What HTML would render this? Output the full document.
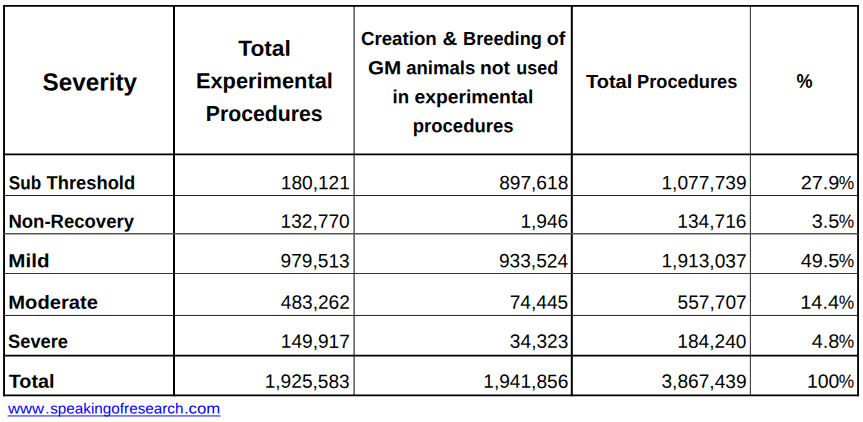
<!DOCTYPE html>
<html lang="en">
<head>
<meta charset="utf-8">
<title>Severity of procedures</title>
<style>
html,body{margin:0;padding:0;background:#fff;}
body{width:863px;height:422px;overflow:hidden;position:relative;}
svg{position:absolute;left:0;top:0;display:block;}
text{font-family:"Liberation Sans",sans-serif;fill:#000;}
.b{font-weight:bold;}
a text{fill:#0000ff;}
</style>
</head>
<body>
<svg width="863" height="422" viewBox="0 0 863 422">
<rect x="0" y="0" width="863" height="422" fill="#ffffff"/>
<g fill="none">
<line x1="4.05" y1="4.90" x2="4.05" y2="396.20" stroke="#000" stroke-width="1.90"/>
<line x1="174.00" y1="4.90" x2="174.00" y2="396.20" stroke="#000" stroke-width="2.00"/>
<line x1="571.80" y1="4.90" x2="571.80" y2="396.20" stroke="#000" stroke-width="2.00"/>
<line x1="858.05" y1="4.90" x2="858.05" y2="396.20" stroke="#000" stroke-width="1.85"/>
<line x1="354.10" y1="5.80" x2="354.10" y2="395.40" stroke="#1a1a1a" stroke-width="1.10"/>
<line x1="750.40" y1="5.80" x2="750.40" y2="395.40" stroke="#3a3a3a" stroke-width="1.10"/>
<line x1="3.00" y1="5.80" x2="858.97" y2="5.80" stroke="#000" stroke-width="1.80"/>
<line x1="3.00" y1="154.40" x2="858.97" y2="154.40" stroke="#000" stroke-width="1.80"/>
<line x1="3.00" y1="355.55" x2="858.97" y2="355.55" stroke="#000" stroke-width="1.70"/>
<line x1="3.00" y1="395.40" x2="858.97" y2="395.40" stroke="#000" stroke-width="1.60"/>
<line x1="4.00" y1="195.50" x2="858.00" y2="195.50" stroke="#222" stroke-width="1.00"/>
<line x1="4.00" y1="233.70" x2="858.00" y2="233.70" stroke="#555" stroke-width="1.40"/>
<line x1="4.00" y1="273.50" x2="858.00" y2="273.50" stroke="#333" stroke-width="1.10"/>
<line x1="4.00" y1="315.45" x2="858.00" y2="315.45" stroke="#222" stroke-width="1.00"/>
</g>
<text class="b" font-size="24.6" transform="translate(42.62 90.40) scale(0.9862 1) rotate(0.03)">Severity</text>
<text class="b" font-size="21.8" transform="translate(238.22 55.85) scale(1.0409 1) rotate(0.03)">Total</text>
<text class="b" font-size="21.8" transform="translate(195.92 88.30) scale(1.0004 1) rotate(0.03)">Experimental</text>
<text class="b" font-size="21.8" transform="translate(205.76 120.95) scale(0.9745 1) rotate(0.03)">Procedures</text>
<text class="b" font-size="19.0" transform="translate(360.90 45.00) scale(0.9847 1) rotate(0.03)">Creation</text>
<text class="b" font-size="19.0" transform="translate(442.53 45.00) scale(1.0769 1) rotate(0.03)">&amp;</text>
<text class="b" font-size="19.0" transform="translate(463.08 45.00) scale(0.9574 1) rotate(0.03)">Breeding</text>
<text class="b" font-size="19.0" transform="translate(546.76 45.00) scale(1.0351 1) rotate(0.03)">of</text>
<text class="b" font-size="19.0" transform="translate(368.02 74.15) scale(1.0877 1) rotate(0.03)">GM</text>
<text class="b" font-size="19.0" transform="translate(406.19 74.15) scale(0.9762 1) rotate(0.03)">animals</text>
<text class="b" font-size="19.0" transform="translate(480.00 74.15) scale(1.0168 1) rotate(0.03)">not</text>
<text class="b" font-size="19.0" transform="translate(516.27 74.15) scale(0.9455 1) rotate(0.03)">used</text>
<text class="b" font-size="19.0" transform="translate(392.44 103.30) scale(0.9834 1) rotate(0.03)">in</text>
<text class="b" font-size="19.0" transform="translate(414.48 103.30) scale(1.0153 1) rotate(0.03)">experimental</text>
<text class="b" font-size="19.0" transform="translate(412.76 132.30) scale(0.9736 1) rotate(0.03)">procedures</text>
<text class="b" font-size="19.0" transform="translate(585.95 87.90) scale(1.0526 1) rotate(0.03)">Total</text>
<text class="b" font-size="19.0" transform="translate(636.97 87.90) scale(0.9608 1) rotate(0.03)">Procedures</text>
<text class="b" font-size="19.7" transform="translate(796.61 87.70) scale(0.9174 1) rotate(0.03)">%</text>
<text class="b" font-size="19.0" transform="translate(8.74 189.15) scale(0.9023 1) rotate(0.03)">Sub</text>
<text class="b" font-size="19.0" transform="translate(46.57 189.15) scale(0.9642 1) rotate(0.03)">Threshold</text>
<text font-size="19.2" transform="translate(280.74 189.15) scale(0.9965 1) rotate(0.03)">180,121</text>
<text font-size="19.2" transform="translate(499.15 189.15) scale(0.9965 1) rotate(0.03)">897,618</text>
<text font-size="19.2" transform="translate(661.47 189.15) scale(0.9965 1) rotate(0.03)">1,077,739</text>
<text font-size="19.2" transform="translate(800.69 189.15) scale(1.0364 1) rotate(0.03)">27.9</text>
<text font-size="19.2" transform="translate(838.86 189.15) scale(0.9034 1) rotate(0.03)">%</text>
<text class="b" font-size="19.0" transform="translate(8.45 227.65) scale(0.9749 1) rotate(0.03)">Non-Recovery</text>
<text font-size="19.2" transform="translate(280.55 227.65) scale(0.9965 1) rotate(0.03)">132,770</text>
<text font-size="19.2" transform="translate(520.38 227.65) scale(0.9965 1) rotate(0.03)">1,946</text>
<text font-size="19.2" transform="translate(677.35 227.65) scale(0.9965 1) rotate(0.03)">134,716</text>
<text font-size="19.2" transform="translate(811.64 227.65) scale(1.0364 1) rotate(0.03)">3.5</text>
<text font-size="19.2" transform="translate(838.86 227.65) scale(0.9034 1) rotate(0.03)">%</text>
<text class="b" font-size="19.0" transform="translate(8.31 267.35) scale(1.0838 1) rotate(0.03)">Mild</text>
<text font-size="19.2" transform="translate(280.55 267.35) scale(0.9965 1) rotate(0.03)">979,513</text>
<text font-size="19.2" transform="translate(498.95 267.35) scale(0.9965 1) rotate(0.03)">933,524</text>
<text font-size="19.2" transform="translate(661.47 267.35) scale(0.9965 1) rotate(0.03)">1,913,037</text>
<text font-size="19.2" transform="translate(800.69 267.35) scale(1.0364 1) rotate(0.03)">49.5</text>
<text font-size="19.2" transform="translate(838.86 267.35) scale(0.9034 1) rotate(0.03)">%</text>
<text class="b" font-size="19.0" transform="translate(8.34 308.70) scale(1.0611 1) rotate(0.03)">Moderate</text>
<text font-size="19.2" transform="translate(280.74 308.70) scale(0.9965 1) rotate(0.03)">483,262</text>
<text font-size="19.2" transform="translate(509.67 308.70) scale(0.9965 1) rotate(0.03)">74,445</text>
<text font-size="19.2" transform="translate(677.54 308.70) scale(0.9965 1) rotate(0.03)">557,707</text>
<text font-size="19.2" transform="translate(800.30 308.70) scale(1.0364 1) rotate(0.03)">14.4</text>
<text font-size="19.2" transform="translate(838.86 308.70) scale(0.9034 1) rotate(0.03)">%</text>
<text class="b" font-size="19.0" transform="translate(8.10 347.85) scale(0.9611 1) rotate(0.03)">Severe</text>
<text font-size="19.2" transform="translate(280.74 347.85) scale(0.9965 1) rotate(0.03)">149,917</text>
<text font-size="19.2" transform="translate(509.86 347.85) scale(0.9965 1) rotate(0.03)">34,323</text>
<text font-size="19.2" transform="translate(677.35 347.85) scale(0.9965 1) rotate(0.03)">184,240</text>
<text font-size="19.2" transform="translate(811.64 347.85) scale(1.0364 1) rotate(0.03)">4.8</text>
<text font-size="19.2" transform="translate(838.86 347.85) scale(0.9034 1) rotate(0.03)">%</text>
<text class="b" font-size="19.0" transform="translate(8.75 387.85) scale(1.0408 1) rotate(0.03)">Total</text>
<text font-size="19.2" transform="translate(264.67 387.85) scale(0.9965 1) rotate(0.03)">1,925,583</text>
<text font-size="19.2" transform="translate(483.27 387.85) scale(0.9965 1) rotate(0.03)">1,941,856</text>
<text font-size="19.2" transform="translate(661.47 387.85) scale(0.9965 1) rotate(0.03)">3,867,439</text>
<text font-size="19.2" transform="translate(807.00 387.85) scale(1.0065 1) rotate(0.03)">100</text>
<text font-size="19.2" transform="translate(838.86 387.85) scale(0.9034 1) rotate(0.03)">%</text>
<a href="#">
<text font-size="14.9" transform="translate(7.95 413.50) scale(1.1196 1) rotate(0.03)">www</text>
<text font-size="14.9" transform="translate(45.48 413.50) scale(0.8725 1) rotate(0.03)">.</text>
<text font-size="14.9" transform="translate(50.19 413.50) scale(1.0265 1) rotate(0.03)">speakingofresearch</text>
<text font-size="14.9" transform="translate(183.94 413.50) scale(1.1286 1) rotate(0.03)">.com</text>
<line x1="7.6" y1="415.95" x2="220.6" y2="415.95" stroke="#0000ff" stroke-width="0.95"/>
</a>
</svg>
</body>
</html>
